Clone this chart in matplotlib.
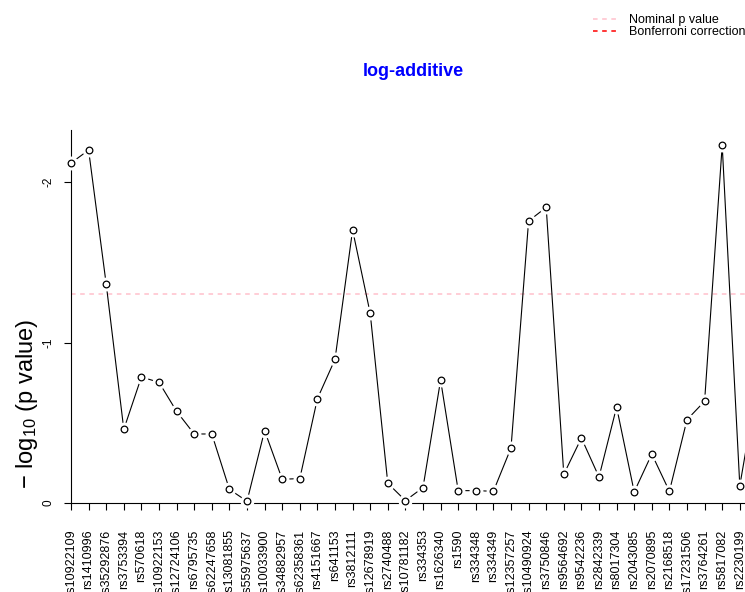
"""
Recreate SNPassoc-style log-additive p value plot
"""
import numpy as np
import matplotlib
matplotlib.use('Agg')
import matplotlib.pyplot as plt
from matplotlib.lines import Line2D

plt.rcParams['font.family'] = ['Liberation Sans', 'DejaVu Sans']
plt.rcParams['mathtext.fontset'] = 'custom'
plt.rcParams['mathtext.rm'] = 'Liberation Sans'
plt.rcParams['mathtext.default'] = 'regular'

snps = ['rs10922109', 'rs1410996', 'rs35292876', 'rs3753394', 'rs570618',
        'rs10922153', 'rs12724106', 'rs6795735', 'rs62247658', 'rs13081855',
        'rs55975637', 'rs10033900', 'rs34882957', 'rs62358361', 'rs4151667',
        'rs641153', 'rs3812111', 'rs12678919', 'rs2740488', 'rs10781182',
        'rs334353', 'rs1626340', 'rs1590', 'rs334348', 'rs334349',
        'rs12357257', 'rs10490924', 'rs3750846', 'rs9564692', 'rs9542236',
        'rs2842339', 'rs8017304', 'rs2043085', 'rs2070895', 'rs2168518',
        'rs17231506', 'rs3764261', 'rs5817082', 'rs2230199', '']

# -log10(p) for the log-additive model (last one is cut off at the right edge)
log_p = [2.118, 2.199, 1.364, 0.459, 0.785, 0.752, 0.571, 0.430, 0.430, 0.085,
         0.011, 0.451, 0.148, 0.152, 0.650, 0.895, 1.701, 1.182, 0.123, 0.015,
         0.096, 0.766, 0.077, 0.077, 0.073, 0.343, 1.757, 1.842, 0.179, 0.405,
         0.162, 0.598, 0.069, 0.305, 0.073, 0.519, 0.634, 2.229, 0.108, 0.744]

ytick_vals = [0, 1, 2]
ytick_labels = ['0', '-1', '-2']
nominal_p = 0.05
n_tests = 39

W, H = 745, 592
fig = plt.figure(figsize=(W / 100, H / 100), dpi=100)

x0, x_step = 71, 17.6
y0, y_top = 503, 130
ax = fig.add_axes([x0 / W, (H - y0) / H, 40 * x_step / W, (y0 - y_top) / H])

x = np.arange(len(log_p))
ax.plot(x, log_p, color='black', linewidth=0.8, zorder=2)
# white halo to mimic R's type="b" gaps
ax.plot(x, log_p, linestyle='none', marker='o', markersize=9,
        markerfacecolor='white', markeredgecolor='white', zorder=3, clip_on=False)
ax.plot(x, log_p, linestyle='none', marker='o', markersize=4.8,
        markerfacecolor='white', markeredgecolor='black', markeredgewidth=0.9,
        zorder=4, clip_on=False)

ax.axhline(-np.log10(nominal_p), color='pink', linewidth=1.1, dashes=(3, 3), zorder=1)
ax.axhline(-np.log10(nominal_p / n_tests), color='red', linewidth=1.1, dashes=(3, 3), zorder=1)

ax.set_xlim(0, 40)
ax.set_ylim(0, (y0 - y_top) / 160.5)

ax.set_xticks(x)
ax.set_xticklabels(snps, rotation=90, fontsize=9, va='top', ha='center')
ax.set_yticks(ytick_vals)
ax.set_yticklabels(ytick_labels, fontsize=8.5)
for lab in ax.get_yticklabels():
    lab.set_rotation(90)
    lab.set_ha('center')
    lab.set_va('center')

ax.tick_params(axis='x', length=5, width=0.8, pad=14)
ax.tick_params(axis='y', length=5, width=0.8, pad=11)

for side in ['top', 'right']:
    ax.spines[side].set_visible(False)
for side in ['left', 'bottom']:
    ax.spines[side].set_linewidth(0.8)

fig.text(27 / W, 1 - 404 / H, r'$-$ log$_{10}$ (p value)', rotation=90,
         ha='center', va='center', fontsize=17)
fig.text(413 / W, 1 - 72 / H, 'log-additive', color='blue', fontweight='bold',
         ha='center', va='center', fontsize=13)

handles = [Line2D([0], [0], color='pink', linewidth=1.1, dashes=(3, 3)),
           Line2D([0], [0], color='red', linewidth=1.1, dashes=(3, 3))]
fig.legend(handles, ['Nominal p value', 'Bonferroni correction'],
           loc='upper right', bbox_to_anchor=(1.0 + 7 / W, 1 - 8 / H), frameon=False,
           fontsize=9, handlelength=2.1, handletextpad=0.8, labelspacing=0.0,
           borderpad=0)

fig.savefig('out.png', dpi=100)
